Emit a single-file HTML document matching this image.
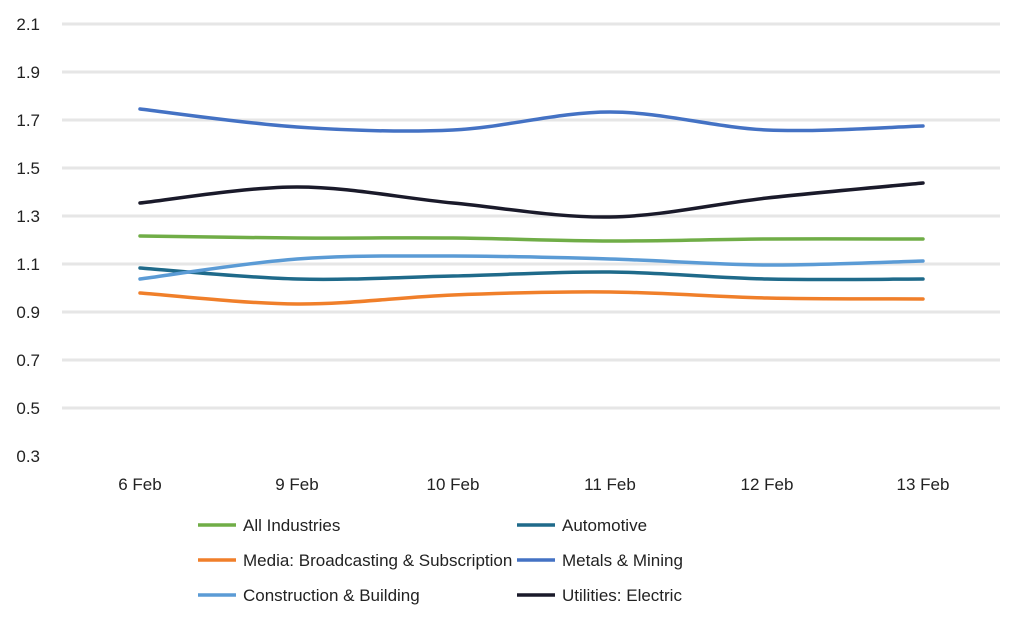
<!DOCTYPE html>
<html><head><style>body{margin:0;background:#fff}svg{display:block}text{font-family:"Liberation Sans",sans-serif;fill:#222}</style></head>
<body>
<svg width="1024" height="623" viewBox="0 0 1024 623">
<g stroke="#e6e6e6" stroke-width="3">
<line x1="62" x2="1000" y1="24" y2="24"/><line x1="62" x2="1000" y1="72" y2="72"/><line x1="62" x2="1000" y1="120" y2="120"/><line x1="62" x2="1000" y1="168" y2="168"/><line x1="62" x2="1000" y1="216" y2="216"/><line x1="62" x2="1000" y1="264" y2="264"/><line x1="62" x2="1000" y1="312" y2="312"/><line x1="62" x2="1000" y1="360" y2="360"/><line x1="62" x2="1000" y1="408" y2="408"/>
</g>
<g font-size="17" text-anchor="end">
<text x="40" y="30">2.1</text><text x="40" y="78">1.9</text><text x="40" y="126">1.7</text><text x="40" y="174">1.5</text><text x="40" y="222">1.3</text><text x="40" y="270">1.1</text><text x="40" y="318">0.9</text><text x="40" y="366">0.7</text><text x="40" y="414">0.5</text><text x="40" y="462">0.3</text>
</g>
<g font-size="17" text-anchor="middle">
<text x="140" y="490">6 Feb</text><text x="297" y="490">9 Feb</text><text x="453" y="490">10 Feb</text><text x="610" y="490">11 Feb</text><text x="767" y="490">12 Feb</text><text x="923" y="490">13 Feb</text>
</g>
<g fill="none" stroke-width="3.5" stroke-linecap="round" id="lines"></g>
<g font-size="17">
<line x1="198" x2="236" y1="525" y2="525" stroke="#70ad47" stroke-width="3.5"/><text x="243" y="531">All Industries</text>
<line x1="517" x2="555" y1="525" y2="525" stroke="#1f6a8a" stroke-width="3.5"/><text x="562" y="531">Automotive</text>
<line x1="198" x2="236" y1="560" y2="560" stroke="#f07f2a" stroke-width="3.5"/><text x="243" y="566">Media: Broadcasting &amp; Subscription</text>
<line x1="517" x2="555" y1="560" y2="560" stroke="#4472c4" stroke-width="3.5"/><text x="562" y="566">Metals &amp; Mining</text>
<line x1="198" x2="236" y1="595" y2="595" stroke="#5b9bd5" stroke-width="3.5"/><text x="243" y="601">Construction &amp; Building</text>
<line x1="517" x2="555" y1="595" y2="595" stroke="#1a1a2a" stroke-width="3.5"/><text x="562" y="601">Utilities: Electric</text>
</g>
</svg>
<script>
var xs=[140,297,453,610,767,923];
var S=[["#4472c4",[109,127,130,112,130,126]],["#1a1a2a",[203,187,203,217,198,183]],["#70ad47",[236,238,238,241,239,239]],["#1f6a8a",[268,279,276,272,279,279]],["#5b9bd5",[279,259,256,259,265,261]],["#f07f2a",[293,304,295,292,298,299]]];
var g=document.getElementById('lines');
S.forEach(function(s){var y=s[1],d="M"+xs[0]+","+y[0];
for(var i=0;i<5;i++){var p0=i?i-1:0,p3=i<4?i+2:5;
var c1x=xs[i]+(xs[i+1]-xs[p0])/6,c1y=y[i]+(y[i+1]-y[p0])/6,c2x=xs[i+1]-(xs[p3]-xs[i])/6,c2y=y[i+1]-(y[p3]-y[i])/6;
d+=" C"+c1x+","+c1y+" "+c2x+","+c2y+" "+xs[i+1]+","+y[i+1];}
var p=document.createElementNS("http://www.w3.org/2000/svg","path");p.setAttribute("d",d);p.setAttribute("stroke",s[0]);g.appendChild(p);});
</script>
</body></html>
